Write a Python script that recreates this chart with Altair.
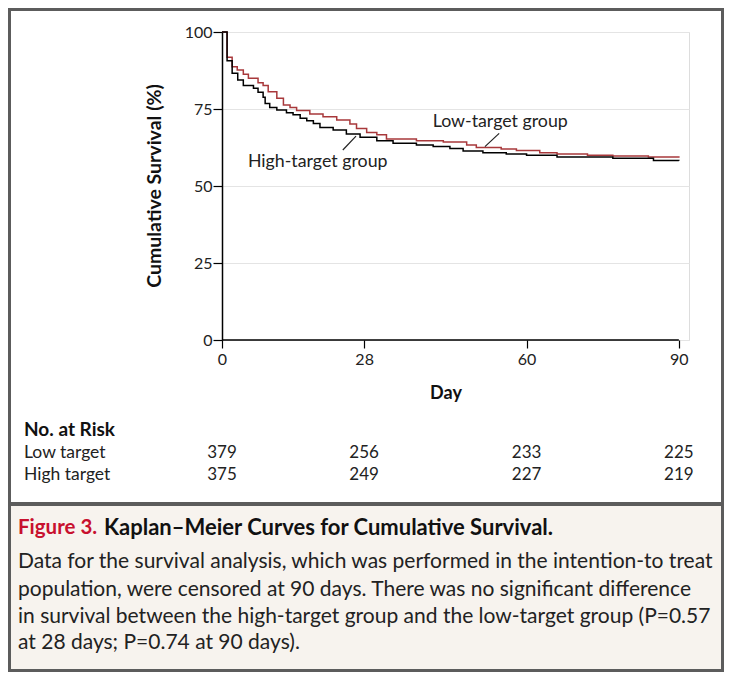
import altair as alt
import pandas as pd

# ---- data ----
days_low = [0, 1, 2, 3, 4.2, 5.2, 7.1, 8.1, 9.1, 10.8, 12.1, 13.4, 14.7, 17.3, 19.9, 22.6,
            25.2, 26.5, 28.5, 30.5, 32.4, 38.3, 43.6, 48.2, 50.1, 55, 58, 62.6, 66, 72, 77, 84, 90]
surv_low = [100, 91.8, 88.7, 87.7, 86.3, 85.0, 83.5, 82.6, 80.6, 78.5, 76.3, 75.5, 74.5, 73.4, 72.5, 71.4,
            70.1, 68.7, 67.4, 66.6, 65.3, 64.7, 64.3, 63.3, 62.5, 62.0, 61.5, 60.8, 60.4, 60.0, 59.7, 59.4, 59.2]
days_high = [0, 1, 2, 3.1, 4.2, 6.2, 7.1, 8.1, 8.5, 9.4, 10.8, 12.7, 14, 15.4, 16.7, 18, 19.3,
             21.9, 24.5, 27.2, 30.5, 33.7, 38.3, 41.6, 44.9, 47.5, 51.4, 56, 60, 66, 77, 85, 90]
surv_high = [100, 90.7, 86.6, 84.4, 82.6, 81.7, 80.4, 78.8, 76.8, 75.5, 74.7, 73.8, 73.1, 72.0, 71.2, 70.3, 69.0,
             68.2, 66.9, 65.8, 64.7, 63.9, 63.3, 62.8, 62.2, 61.4, 60.8, 60.4, 60.0, 59.4, 59.0, 58.3, 58.2]

risk_days = [0, 28, 60, 90]
risk_low = [379, 256, 233, 225]
risk_high = [375, 249, 227, 219]
x_ticks = [0, 28, 60, 90]
y_ticks = [0, 25, 50, 75, 100]

group_labels = ["Low-target group", "High-target group"]
group_label_day = [41.5, 5.1]
group_label_surv = [70.8, 57.8]
leader_day = [51.8, 23.8]
leader_surv = [62.8, 61.7]
leader_day2 = [54.6, 26.4]
leader_surv2 = [67.1, 66.2]

caption_fig = "Figure 3."
caption_title = "Kaplan\u2013Meier Curves for Cumulative Survival."
caption_lines = [
    "Data for the survival analysis, which was performed in the intention-to treat",
    "population, were censored at 90 days. There was no significant difference",
    "in survival between the high-target group and the low-target group (P=0.57",
    "at 28 days; P=0.74 at 90 days).",
]

# ---- styling ----
W, H = 467, 308
FONT = "Lato"
RED = "#a8383b"
BORDER = "#5c5c5c"
BEIGE = "#f7f3ee"

xs = alt.Scale(domain=[0, 92], nice=False, zero=False)
ys = alt.Scale(domain=[0, 100], nice=False)
xaxis = alt.Axis(values=x_ticks, title=None, grid=False, domain=False, labelFlush=False,
                 tickColor="black", tickSize=8, tickWidth=1.2,
                 labelFontSize=16, labelColor="#222", labelPadding=3, labelFont=FONT)
yaxis = alt.Axis(values=y_ticks, title=None, grid=True, gridColor="#e4e4e4", gridWidth=1,
                 domainColor="black", domainWidth=1.5, labelFlush=False,
                 tickColor="black", tickSize=9, tickWidth=1.2,
                 labelFontSize=16, labelColor="#222", labelPadding=1, labelFont=FONT)


def X(f):
    return alt.X(f, scale=xs, axis=xaxis)


def Y(f):
    return alt.Y(f, scale=ys, axis=yaxis)


def txt(t, px, py, **kw):
    return alt.Chart(pd.DataFrame({"t": [t]})).mark_text(font=FONT, **kw).encode(
        x=alt.value(px), y=alt.value(py), text="t:N")


one = pd.DataFrame({"a": [0]})

frame = alt.Chart(one).mark_rect(fillOpacity=0, stroke=BORDER, strokeWidth=3).encode(
    x=alt.value(-212.5), x2=alt.value(500.5), y=alt.value(-22.5), y2=alt.value(638.5))
beige = alt.Chart(one).mark_rect(fill=BEIGE).encode(
    x=alt.value(-211), x2=alt.value(499), y=alt.value(474), y2=alt.value(637))
sep = alt.Chart(one).mark_rect(fill=BORDER).encode(
    x=alt.value(-211), x2=alt.value(499), y=alt.value(470), y2=alt.value(474))

low_df = pd.DataFrame({"day": days_low, "surv": surv_low})
high_df = pd.DataFrame({"day": days_high, "surv": surv_high})

low_line = alt.Chart(low_df).mark_line(interpolate="step-after", color=RED, strokeWidth=1.5).encode(
    x=X("day:Q"), y=Y("surv:Q"))
high_line = alt.Chart(high_df).mark_line(interpolate="step-after", color="black", strokeWidth=1.5).encode(
    x=X("day:Q"), y=Y("surv:Q"))

xdomain = alt.Chart(pd.DataFrame({"day": [x_ticks[0]], "d1": [x_ticks[-1]]})).mark_rule(
    color="black", strokeWidth=1.5).encode(x=X("day:Q"), x2="d1:Q", y=alt.value(H))

lab_df = pd.DataFrame({"t": group_labels, "day": group_label_day, "surv": group_label_surv})
labels = alt.Chart(lab_df).mark_text(align="left", baseline="middle", font=FONT, fontSize=17.8,
                                     color="#222").encode(x=X("day:Q"), y=Y("surv:Q"), text="t:N")

lead_df = pd.DataFrame({"day": leader_day, "surv": leader_surv, "d2": leader_day2, "s2": leader_surv2})
leaders = alt.Chart(lead_df).mark_rule(color="#222", strokeWidth=1.2).encode(
    x=X("day:Q"), y=Y("surv:Q"), x2="d2:Q", y2="s2:Q")

ytitle = txt("Cumulative Survival (%)", -67, 154, angle=270, fontSize=19.5, fontWeight="bold",
             color="#111", baseline="middle")
xtitle = txt("Day", 224, 362, fontSize=18, fontWeight="bold", color="#111", baseline="middle")

risk_head = txt("No. at Risk", -198, 398, fontSize=19, fontWeight="bold", color="#111",
                align="left", baseline="middle")
risk_n1 = txt("Low target", -198, 421, fontSize=17.5, color="#222", align="left", baseline="middle")
risk_n2 = txt("High target", -198, 443, fontSize=17.5, color="#222", align="left", baseline="middle")

rl = pd.DataFrame({"day": risk_days, "n": [str(v) for v in risk_low]})
rh = pd.DataFrame({"day": risk_days, "n": [str(v) for v in risk_high]})
risk_low_t = alt.Chart(rl).mark_text(font=FONT, fontSize=17, color="#222", baseline="middle").encode(
    x=X("day:Q"), y=alt.value(421), text="n:N")
risk_high_t = alt.Chart(rh).mark_text(font=FONT, fontSize=17, color="#222", baseline="middle").encode(
    x=X("day:Q"), y=alt.value(443), text="n:N")

cap_fig = txt(caption_fig, -204, 496, fontSize=20.5, fontWeight="bold", color="#c8102e",
              align="left", baseline="middle")
cap_title = txt(caption_title, -118, 496, fontSize=22, fontWeight="bold", color="#111",
                align="left", baseline="middle")
cap_body = [txt(line, -204, yy, fontSize=21, color="#222", align="left", baseline="middle")
            for line, yy in zip(caption_lines, [530, 558, 585, 611])]

chart = alt.layer(
    frame, beige, sep, low_line, high_line, xdomain, labels, leaders, ytitle, xtitle,
    risk_head, risk_n1, risk_n2, risk_low_t, risk_high_t, cap_fig, cap_title, *cap_body
).properties(
    width=W, height=H,
    autosize=alt.AutoSizeParams(type="none"),
    padding={"left": 214, "top": 24, "right": 35, "bottom": 332},
).configure_view(stroke=None).configure(font=FONT)

chart.save("out.html", embed_options={"renderer": "svg", "actions": False})
